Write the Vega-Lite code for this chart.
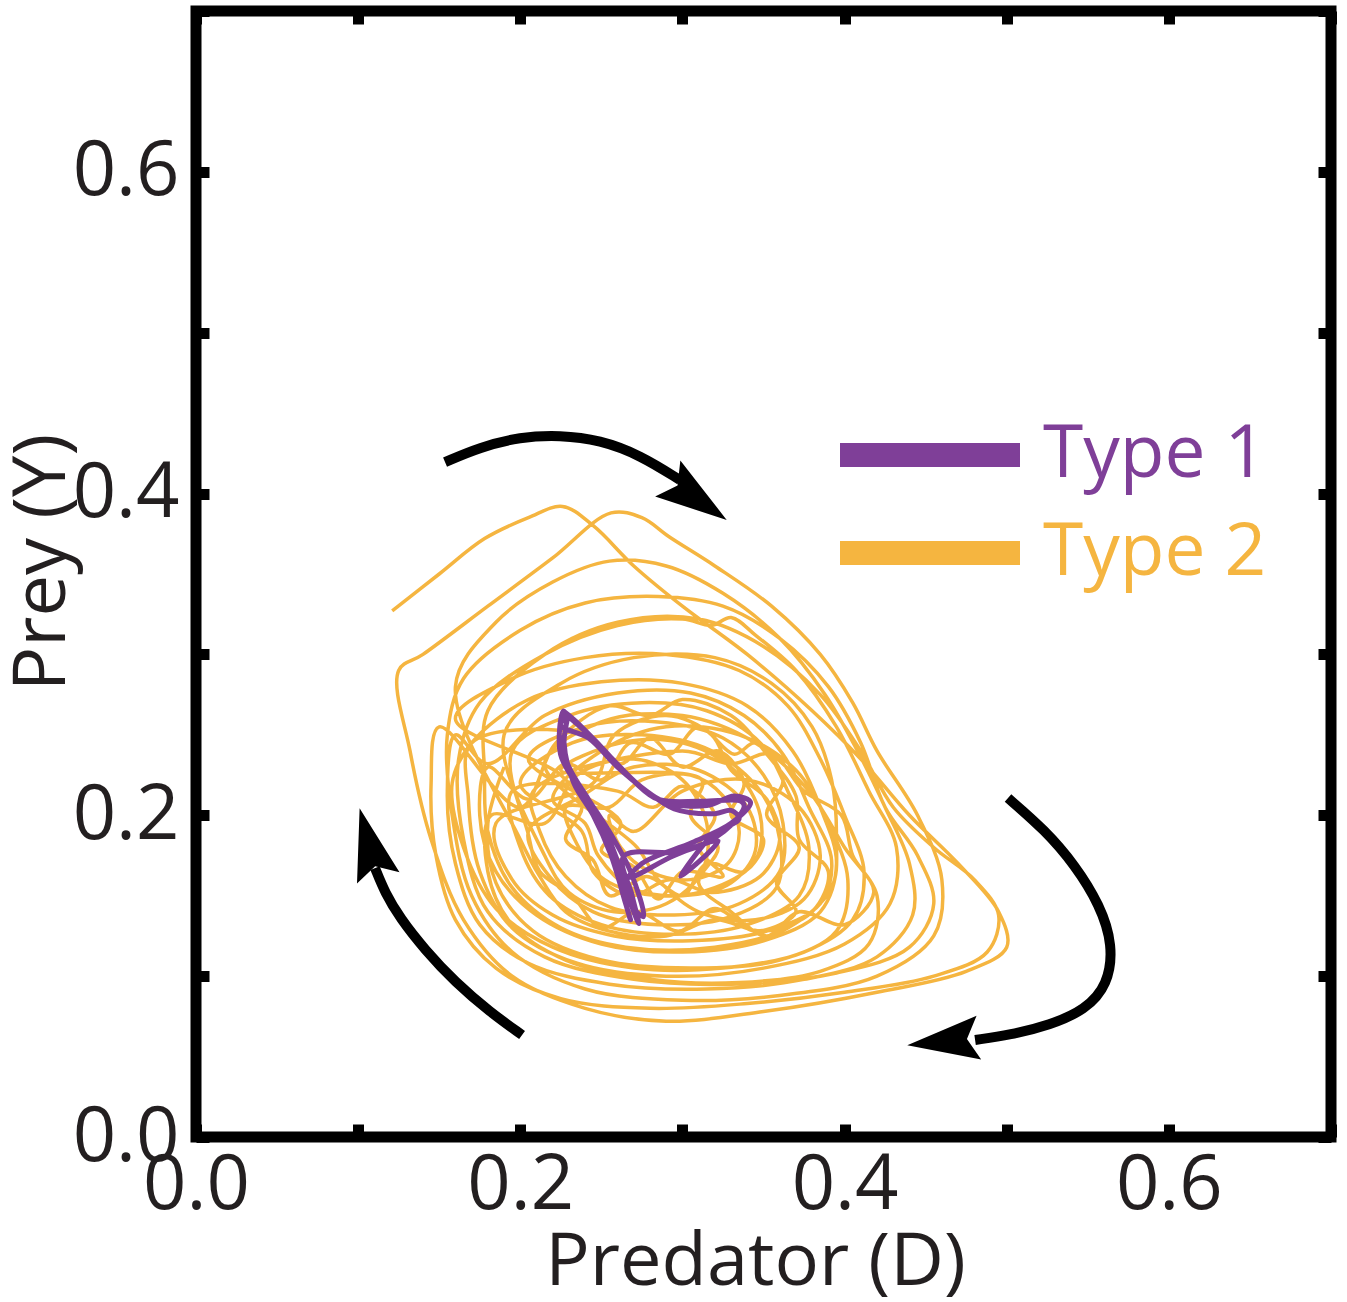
{
  "$schema": "https://vega.github.io/schema/vega-lite/v6.json",
  "width": 1135,
  "height": 1126,
  "autosize": "none",
  "padding": {"left": 196, "top": 11, "right": 16, "bottom": 165},
  "background": "white",
  "config": {
    "view": {"stroke": "black", "strokeWidth": 11},
    "font": "Open Sans",
    "axis": {
      "domain": false,
      "grid": false,
      "ticks": true,
      "tickColor": "black",
      "tickWidth": 11,
      "tickSize": -13,
      "tickCount": 7,
      "labelFont": "Open Sans",
      "labelFontSize": 76,
      "labelColor": "#231f20",
      "labelFlush": false,
      "labelOverlap": false,
      "labelExpr": "round(datum.value*10) % 2 == 0 ? format(datum.value, '.1f') : ''",
      "titleFont": "Open Sans",
      "titleFontSize": 74,
      "titleFontWeight": "normal",
      "titleColor": "#231f20"
    },
    "axisX": {"labelPadding": 24, "titlePadding": 3},
    "axisY": {"labelPadding": 30, "titlePadding": -8}
  },
  "resolve": {"axis": {"x": "independent", "y": "independent"}},
  "datasets": {
    "traj": [
      {"type":"Type 2","D":0.121,"Y":0.327},{"type":"Type 2","D":0.150,"Y":0.350},{"type":"Type 2","D":0.178,"Y":0.372},{"type":"Type 2","D":0.205,"Y":0.385},{"type":"Type 2","D":0.226,"Y":0.392},{"type":"Type 2","D":0.245,"Y":0.380},{"type":"Type 2","D":0.270,"Y":0.355},{"type":"Type 2","D":0.300,"Y":0.330},{"type":"Type 2","D":0.340,"Y":0.300},{"type":"Type 2","D":0.380,"Y":0.265},{"type":"Type 2","D":0.410,"Y":0.235},{"type":"Type 2","D":0.440,"Y":0.200},{"type":"Type 2","D":0.470,"Y":0.170},{"type":"Type 2","D":0.495,"Y":0.140},{"type":"Type 2","D":0.500,"Y":0.118},{"type":"Type 2","D":0.475,"Y":0.103},{"type":"Type 2","D":0.420,"Y":0.090},{"type":"Type 2","D":0.350,"Y":0.078},{"type":"Type 2","D":0.290,"Y":0.072},{"type":"Type 2","D":0.240,"Y":0.080},{"type":"Type 2","D":0.195,"Y":0.100},{"type":"Type 2","D":0.165,"Y":0.135},{"type":"Type 2","D":0.145,"Y":0.185},{"type":"Type 2","D":0.132,"Y":0.240},{"type":"Type 2","D":0.125,"Y":0.290},
      {"type":"Type 2","D":0.140,"Y":0.300},{"type":"Type 2","D":0.180,"Y":0.330},{"type":"Type 2","D":0.220,"Y":0.360},{"type":"Type 2","D":0.256,"Y":0.388},{"type":"Type 2","D":0.275,"Y":0.385},{"type":"Type 2","D":0.292,"Y":0.373},{"type":"Type 2","D":0.320,"Y":0.355},{"type":"Type 2","D":0.355,"Y":0.330},{"type":"Type 2","D":0.385,"Y":0.300},{"type":"Type 2","D":0.405,"Y":0.270},{"type":"Type 2","D":0.420,"Y":0.240},{"type":"Type 2","D":0.445,"Y":0.200},{"type":"Type 2","D":0.460,"Y":0.160},{"type":"Type 2","D":0.455,"Y":0.125},{"type":"Type 2","D":0.420,"Y":0.100},{"type":"Type 2","D":0.360,"Y":0.088},{"type":"Type 2","D":0.300,"Y":0.085},{"type":"Type 2","D":0.240,"Y":0.092},{"type":"Type 2","D":0.195,"Y":0.115},{"type":"Type 2","D":0.170,"Y":0.150},{"type":"Type 2","D":0.158,"Y":0.200},{"type":"Type 2","D":0.155,"Y":0.250},
      {"type":"Type 2","D":0.165,"Y":0.285},{"type":"Type 2","D":0.200,"Y":0.315},{"type":"Type 2","D":0.240,"Y":0.332},{"type":"Type 2","D":0.285,"Y":0.336},{"type":"Type 2","D":0.325,"Y":0.330},{"type":"Type 2","D":0.360,"Y":0.310},{"type":"Type 2","D":0.390,"Y":0.280},{"type":"Type 2","D":0.410,"Y":0.245},{"type":"Type 2","D":0.425,"Y":0.205},{"type":"Type 2","D":0.445,"Y":0.175},{"type":"Type 2","D":0.455,"Y":0.145},{"type":"Type 2","D":0.440,"Y":0.118},{"type":"Type 2","D":0.395,"Y":0.102},{"type":"Type 2","D":0.330,"Y":0.095},{"type":"Type 2","D":0.270,"Y":0.098},{"type":"Type 2","D":0.215,"Y":0.112},{"type":"Type 2","D":0.180,"Y":0.140},{"type":"Type 2","D":0.165,"Y":0.185},{"type":"Type 2","D":0.162,"Y":0.235},
      {"type":"Type 2","D":0.175,"Y":0.270},{"type":"Type 2","D":0.215,"Y":0.300},{"type":"Type 2","D":0.260,"Y":0.318},{"type":"Type 2","D":0.300,"Y":0.322},{"type":"Type 2","D":0.318,"Y":0.318},{"type":"Type 2","D":0.330,"Y":0.323},{"type":"Type 2","D":0.345,"Y":0.312},{"type":"Type 2","D":0.370,"Y":0.290},{"type":"Type 2","D":0.395,"Y":0.255},{"type":"Type 2","D":0.415,"Y":0.215},{"type":"Type 2","D":0.432,"Y":0.180},{"type":"Type 2","D":0.428,"Y":0.145},{"type":"Type 2","D":0.400,"Y":0.120},{"type":"Type 2","D":0.350,"Y":0.105},{"type":"Type 2","D":0.290,"Y":0.100},{"type":"Type 2","D":0.235,"Y":0.108},{"type":"Type 2","D":0.195,"Y":0.130},{"type":"Type 2","D":0.175,"Y":0.165},{"type":"Type 2","D":0.168,"Y":0.210},{"type":"Type 2","D":0.170,"Y":0.245},
      {"type":"Type 2","D":0.240,"Y":0.250},{"type":"Type 2","D":0.262,"Y":0.232},{"type":"Type 2","D":0.280,"Y":0.248},{"type":"Type 2","D":0.300,"Y":0.230},{"type":"Type 2","D":0.322,"Y":0.240},{"type":"Type 2","D":0.338,"Y":0.220},{"type":"Type 2","D":0.330,"Y":0.200},{"type":"Type 2","D":0.350,"Y":0.185},{"type":"Type 2","D":0.338,"Y":0.165},{"type":"Type 2","D":0.315,"Y":0.170},{"type":"Type 2","D":0.300,"Y":0.150},{"type":"Type 2","D":0.278,"Y":0.162},{"type":"Type 2","D":0.255,"Y":0.150},{"type":"Type 2","D":0.245,"Y":0.172},{"type":"Type 2","D":0.228,"Y":0.185},{"type":"Type 2","D":0.238,"Y":0.205},{"type":"Type 2","D":0.225,"Y":0.225},
      {"type":"Type 2","D":0.160,"Y":0.260},{"type":"Type 2","D":0.195,"Y":0.285},{"type":"Type 2","D":0.240,"Y":0.298},{"type":"Type 2","D":0.290,"Y":0.300},{"type":"Type 2","D":0.335,"Y":0.290},{"type":"Type 2","D":0.365,"Y":0.268},{"type":"Type 2","D":0.385,"Y":0.235},{"type":"Type 2","D":0.400,"Y":0.200},{"type":"Type 2","D":0.412,"Y":0.165},{"type":"Type 2","D":0.405,"Y":0.135},{"type":"Type 2","D":0.375,"Y":0.115},{"type":"Type 2","D":0.325,"Y":0.105},{"type":"Type 2","D":0.270,"Y":0.105},{"type":"Type 2","D":0.220,"Y":0.118},{"type":"Type 2","D":0.185,"Y":0.142},{"type":"Type 2","D":0.165,"Y":0.180},{"type":"Type 2","D":0.158,"Y":0.220},
      {"type":"Type 2","D":0.170,"Y":0.245},{"type":"Type 2","D":0.205,"Y":0.272},{"type":"Type 2","D":0.250,"Y":0.283},{"type":"Type 2","D":0.300,"Y":0.282},{"type":"Type 2","D":0.340,"Y":0.268},{"type":"Type 2","D":0.368,"Y":0.240},{"type":"Type 2","D":0.385,"Y":0.205},{"type":"Type 2","D":0.395,"Y":0.170},{"type":"Type 2","D":0.385,"Y":0.140},{"type":"Type 2","D":0.350,"Y":0.122},{"type":"Type 2","D":0.300,"Y":0.115},{"type":"Type 2","D":0.250,"Y":0.120},{"type":"Type 2","D":0.210,"Y":0.138},{"type":"Type 2","D":0.185,"Y":0.165},{"type":"Type 2","D":0.175,"Y":0.200},{"type":"Type 2","D":0.180,"Y":0.230},
      {"type":"Type 2","D":0.205,"Y":0.210},{"type":"Type 2","D":0.228,"Y":0.232},{"type":"Type 2","D":0.250,"Y":0.222},{"type":"Type 2","D":0.268,"Y":0.245},{"type":"Type 2","D":0.292,"Y":0.238},{"type":"Type 2","D":0.310,"Y":0.255},{"type":"Type 2","D":0.332,"Y":0.238},{"type":"Type 2","D":0.345,"Y":0.245},{"type":"Type 2","D":0.362,"Y":0.222},{"type":"Type 2","D":0.352,"Y":0.200},{"type":"Type 2","D":0.372,"Y":0.180},{"type":"Type 2","D":0.358,"Y":0.158},{"type":"Type 2","D":0.370,"Y":0.140},{"type":"Type 2","D":0.345,"Y":0.128},{"type":"Type 2","D":0.320,"Y":0.142},{"type":"Type 2","D":0.298,"Y":0.128},{"type":"Type 2","D":0.272,"Y":0.140},{"type":"Type 2","D":0.250,"Y":0.130},{"type":"Type 2","D":0.232,"Y":0.150},{"type":"Type 2","D":0.212,"Y":0.165},{"type":"Type 2","D":0.205,"Y":0.188},
      {"type":"Type 2","D":0.195,"Y":0.240},{"type":"Type 2","D":0.230,"Y":0.262},{"type":"Type 2","D":0.275,"Y":0.270},{"type":"Type 2","D":0.315,"Y":0.265},{"type":"Type 2","D":0.348,"Y":0.245},{"type":"Type 2","D":0.365,"Y":0.215},{"type":"Type 2","D":0.378,"Y":0.180},{"type":"Type 2","D":0.372,"Y":0.150},{"type":"Type 2","D":0.340,"Y":0.132},{"type":"Type 2","D":0.295,"Y":0.126},{"type":"Type 2","D":0.250,"Y":0.132},{"type":"Type 2","D":0.218,"Y":0.150},{"type":"Type 2","D":0.200,"Y":0.180},{"type":"Type 2","D":0.195,"Y":0.215},
      {"type":"Type 2","D":0.260,"Y":0.215},{"type":"Type 2","D":0.282,"Y":0.205},{"type":"Type 2","D":0.300,"Y":0.218},{"type":"Type 2","D":0.320,"Y":0.200},{"type":"Type 2","D":0.310,"Y":0.180},{"type":"Type 2","D":0.325,"Y":0.162},{"type":"Type 2","D":0.300,"Y":0.165},{"type":"Type 2","D":0.285,"Y":0.148},{"type":"Type 2","D":0.270,"Y":0.168},{"type":"Type 2","D":0.250,"Y":0.178},{"type":"Type 2","D":0.262,"Y":0.195},
      {"type":"Type 2","D":0.205,"Y":0.235},{"type":"Type 2","D":0.240,"Y":0.255},{"type":"Type 2","D":0.285,"Y":0.258},{"type":"Type 2","D":0.325,"Y":0.248},{"type":"Type 2","D":0.350,"Y":0.225},{"type":"Type 2","D":0.362,"Y":0.195},{"type":"Type 2","D":0.360,"Y":0.165},{"type":"Type 2","D":0.335,"Y":0.145},{"type":"Type 2","D":0.295,"Y":0.138},{"type":"Type 2","D":0.255,"Y":0.143},{"type":"Type 2","D":0.228,"Y":0.162},{"type":"Type 2","D":0.212,"Y":0.190},{"type":"Type 2","D":0.208,"Y":0.215},
      {"type":"Type 2","D":0.300,"Y":0.240},{"type":"Type 2","D":0.330,"Y":0.232},{"type":"Type 2","D":0.355,"Y":0.238},{"type":"Type 2","D":0.375,"Y":0.215},{"type":"Type 2","D":0.398,"Y":0.200},{"type":"Type 2","D":0.405,"Y":0.175},{"type":"Type 2","D":0.418,"Y":0.152},{"type":"Type 2","D":0.400,"Y":0.132},{"type":"Type 2","D":0.372,"Y":0.140},{"type":"Type 2","D":0.352,"Y":0.125},{"type":"Type 2","D":0.330,"Y":0.140},{"type":"Type 2","D":0.310,"Y":0.158},{"type":"Type 2","D":0.322,"Y":0.180},{"type":"Type 2","D":0.305,"Y":0.200},{"type":"Type 2","D":0.312,"Y":0.222},
      {"type":"Type 2","D":0.225,"Y":0.228},{"type":"Type 2","D":0.262,"Y":0.245},{"type":"Type 2","D":0.300,"Y":0.245},{"type":"Type 2","D":0.332,"Y":0.228},{"type":"Type 2","D":0.348,"Y":0.200},{"type":"Type 2","D":0.345,"Y":0.172},{"type":"Type 2","D":0.320,"Y":0.155},{"type":"Type 2","D":0.285,"Y":0.150},{"type":"Type 2","D":0.252,"Y":0.160},{"type":"Type 2","D":0.235,"Y":0.182},{"type":"Type 2","D":0.228,"Y":0.205},
      {"type":"Type 2","D":0.255,"Y":0.205},{"type":"Type 2","D":0.275,"Y":0.222},{"type":"Type 2","D":0.305,"Y":0.225},{"type":"Type 2","D":0.325,"Y":0.212},{"type":"Type 2","D":0.335,"Y":0.190},{"type":"Type 2","D":0.328,"Y":0.170},{"type":"Type 2","D":0.305,"Y":0.160},{"type":"Type 2","D":0.280,"Y":0.165},{"type":"Type 2","D":0.262,"Y":0.180},{"type":"Type 2","D":0.255,"Y":0.200},
      {"type":"Type 2","D":0.270,"Y":0.190},{"type":"Type 2","D":0.300,"Y":0.215},{"type":"Type 2","D":0.340,"Y":0.222},{"type":"Type 2","D":0.372,"Y":0.205},{"type":"Type 2","D":0.385,"Y":0.175},{"type":"Type 2","D":0.375,"Y":0.148},{"type":"Type 2","D":0.345,"Y":0.135},{"type":"Type 2","D":0.310,"Y":0.140},{"type":"Type 2","D":0.285,"Y":0.160},{"type":"Type 2","D":0.272,"Y":0.180},
      {"type":"Type 2","D":0.215,"Y":0.232},{"type":"Type 2","D":0.250,"Y":0.258},{"type":"Type 2","D":0.300,"Y":0.262},{"type":"Type 2","D":0.345,"Y":0.245},{"type":"Type 2","D":0.378,"Y":0.215},{"type":"Type 2","D":0.400,"Y":0.180},{"type":"Type 2","D":0.420,"Y":0.150},{"type":"Type 2","D":0.415,"Y":0.120},{"type":"Type 2","D":0.385,"Y":0.103},{"type":"Type 2","D":0.335,"Y":0.096},{"type":"Type 2","D":0.280,"Y":0.098},{"type":"Type 2","D":0.228,"Y":0.110},{"type":"Type 2","D":0.195,"Y":0.132},{"type":"Type 2","D":0.180,"Y":0.165},{"type":"Type 2","D":0.182,"Y":0.200},
      {"type":"Type 2","D":0.215,"Y":0.195},{"type":"Type 2","D":0.235,"Y":0.225},{"type":"Type 2","D":0.270,"Y":0.235},{"type":"Type 2","D":0.300,"Y":0.222},{"type":"Type 2","D":0.315,"Y":0.195},{"type":"Type 2","D":0.312,"Y":0.165},{"type":"Type 2","D":0.290,"Y":0.145},{"type":"Type 2","D":0.258,"Y":0.140},{"type":"Type 2","D":0.230,"Y":0.152},{"type":"Type 2","D":0.215,"Y":0.175},
      {"type":"Type 2","D":0.190,"Y":0.250},{"type":"Type 2","D":0.225,"Y":0.282},{"type":"Type 2","D":0.270,"Y":0.298},{"type":"Type 2","D":0.320,"Y":0.298},{"type":"Type 2","D":0.355,"Y":0.282},{"type":"Type 2","D":0.380,"Y":0.255},{"type":"Type 2","D":0.392,"Y":0.222},{"type":"Type 2","D":0.395,"Y":0.185},{"type":"Type 2","D":0.392,"Y":0.155},{"type":"Type 2","D":0.365,"Y":0.130},{"type":"Type 2","D":0.320,"Y":0.118},{"type":"Type 2","D":0.265,"Y":0.118},{"type":"Type 2","D":0.225,"Y":0.130},{"type":"Type 2","D":0.195,"Y":0.155},{"type":"Type 2","D":0.180,"Y":0.190},{"type":"Type 2","D":0.178,"Y":0.225},
      {"type":"Type 2","D":0.180,"Y":0.265},{"type":"Type 2","D":0.215,"Y":0.300},{"type":"Type 2","D":0.260,"Y":0.320},{"type":"Type 2","D":0.310,"Y":0.322},{"type":"Type 2","D":0.350,"Y":0.305},{"type":"Type 2","D":0.385,"Y":0.275},{"type":"Type 2","D":0.410,"Y":0.240},{"type":"Type 2","D":0.430,"Y":0.205},{"type":"Type 2","D":0.455,"Y":0.180},{"type":"Type 2","D":0.480,"Y":0.160},{"type":"Type 2","D":0.495,"Y":0.138},{"type":"Type 2","D":0.488,"Y":0.115},{"type":"Type 2","D":0.455,"Y":0.100},{"type":"Type 2","D":0.400,"Y":0.090},{"type":"Type 2","D":0.340,"Y":0.083},{"type":"Type 2","D":0.280,"Y":0.080},{"type":"Type 2","D":0.225,"Y":0.086},{"type":"Type 2","D":0.185,"Y":0.105},{"type":"Type 2","D":0.160,"Y":0.135},{"type":"Type 2","D":0.148,"Y":0.175},{"type":"Type 2","D":0.145,"Y":0.220},{"type":"Type 2","D":0.150,"Y":0.255},
      {"type":"Type 2","D":0.200,"Y":0.205},{"type":"Type 2","D":0.222,"Y":0.245},{"type":"Type 2","D":0.255,"Y":0.268},{"type":"Type 2","D":0.280,"Y":0.262},{"type":"Type 2","D":0.300,"Y":0.272},{"type":"Type 2","D":0.330,"Y":0.262},{"type":"Type 2","D":0.352,"Y":0.238},{"type":"Type 2","D":0.370,"Y":0.212},{"type":"Type 2","D":0.372,"Y":0.185},{"type":"Type 2","D":0.390,"Y":0.165},{"type":"Type 2","D":0.380,"Y":0.140},{"type":"Type 2","D":0.350,"Y":0.128},{"type":"Type 2","D":0.320,"Y":0.135},{"type":"Type 2","D":0.290,"Y":0.125},{"type":"Type 2","D":0.255,"Y":0.128},{"type":"Type 2","D":0.228,"Y":0.140},{"type":"Type 2","D":0.212,"Y":0.162},{"type":"Type 2","D":0.200,"Y":0.185},
      {"type":"Type 2","D":0.160,"Y":0.280},{"type":"Type 2","D":0.185,"Y":0.320},{"type":"Type 2","D":0.220,"Y":0.345},{"type":"Type 2","D":0.255,"Y":0.358},{"type":"Type 2","D":0.290,"Y":0.355},{"type":"Type 2","D":0.325,"Y":0.338},{"type":"Type 2","D":0.360,"Y":0.310},{"type":"Type 2","D":0.388,"Y":0.275},{"type":"Type 2","D":0.408,"Y":0.240},{"type":"Type 2","D":0.425,"Y":0.205},{"type":"Type 2","D":0.440,"Y":0.170},{"type":"Type 2","D":0.442,"Y":0.138},{"type":"Type 2","D":0.420,"Y":0.112},{"type":"Type 2","D":0.375,"Y":0.098},{"type":"Type 2","D":0.315,"Y":0.092},{"type":"Type 2","D":0.255,"Y":0.095},{"type":"Type 2","D":0.205,"Y":0.108},{"type":"Type 2","D":0.175,"Y":0.132},{"type":"Type 2","D":0.160,"Y":0.170},{"type":"Type 2","D":0.155,"Y":0.215},{"type":"Type 2","D":0.160,"Y":0.250},
      {"type":"Type 2","D":0.180,"Y":0.232},{"type":"Type 2","D":0.215,"Y":0.262},{"type":"Type 2","D":0.260,"Y":0.276},{"type":"Type 2","D":0.305,"Y":0.276},{"type":"Type 2","D":0.338,"Y":0.262},{"type":"Type 2","D":0.362,"Y":0.238},{"type":"Type 2","D":0.378,"Y":0.205},{"type":"Type 2","D":0.392,"Y":0.172},{"type":"Type 2","D":0.385,"Y":0.145},{"type":"Type 2","D":0.352,"Y":0.128},{"type":"Type 2","D":0.305,"Y":0.122},{"type":"Type 2","D":0.258,"Y":0.125},{"type":"Type 2","D":0.220,"Y":0.138},{"type":"Type 2","D":0.195,"Y":0.160},{"type":"Type 2","D":0.185,"Y":0.195},
      {"type":"Type 2","D":0.245,"Y":0.220},{"type":"Type 2","D":0.258,"Y":0.250},{"type":"Type 2","D":0.290,"Y":0.262},{"type":"Type 2","D":0.318,"Y":0.250},{"type":"Type 2","D":0.330,"Y":0.228},{"type":"Type 2","D":0.352,"Y":0.210},{"type":"Type 2","D":0.360,"Y":0.185},{"type":"Type 2","D":0.348,"Y":0.162},{"type":"Type 2","D":0.318,"Y":0.152},{"type":"Type 2","D":0.292,"Y":0.160},{"type":"Type 2","D":0.268,"Y":0.150},{"type":"Type 2","D":0.245,"Y":0.165},{"type":"Type 2","D":0.238,"Y":0.190},
      {"type":"Type 2","D":0.200,"Y":0.220},{"type":"Type 2","D":0.232,"Y":0.245},{"type":"Type 2","D":0.275,"Y":0.250},{"type":"Type 2","D":0.318,"Y":0.240},{"type":"Type 2","D":0.348,"Y":0.215},{"type":"Type 2","D":0.360,"Y":0.185},{"type":"Type 2","D":0.358,"Y":0.155},{"type":"Type 2","D":0.330,"Y":0.137},{"type":"Type 2","D":0.285,"Y":0.132},{"type":"Type 2","D":0.245,"Y":0.140},{"type":"Type 2","D":0.218,"Y":0.162},{"type":"Type 2","D":0.205,"Y":0.190},
      {"type":"Type 2","D":0.238,"Y":0.212},{"type":"Type 2","D":0.270,"Y":0.230},{"type":"Type 2","D":0.310,"Y":0.228},{"type":"Type 2","D":0.340,"Y":0.205},{"type":"Type 2","D":0.345,"Y":0.178},{"type":"Type 2","D":0.330,"Y":0.158},{"type":"Type 2","D":0.300,"Y":0.150},{"type":"Type 2","D":0.268,"Y":0.155},{"type":"Type 2","D":0.248,"Y":0.175},{"type":"Type 2","D":0.240,"Y":0.195},
      {"type":"Type 2","D":0.220,"Y":0.210},{"type":"Type 2","D":0.250,"Y":0.240},{"type":"Type 2","D":0.290,"Y":0.255},{"type":"Type 2","D":0.335,"Y":0.250},{"type":"Type 2","D":0.370,"Y":0.228},{"type":"Type 2","D":0.390,"Y":0.195},{"type":"Type 2","D":0.402,"Y":0.160},{"type":"Type 2","D":0.395,"Y":0.128},{"type":"Type 2","D":0.360,"Y":0.110},{"type":"Type 2","D":0.305,"Y":0.105},{"type":"Type 2","D":0.250,"Y":0.110},{"type":"Type 2","D":0.208,"Y":0.128},{"type":"Type 2","D":0.185,"Y":0.158},{"type":"Type 2","D":0.180,"Y":0.195},{"type":"Type 2","D":0.190,"Y":0.230},
      {"type":"Type 1","D":0.2266,"Y":0.2648},{"type":"Type 1","D":0.2341,"Y":0.2586},{"type":"Type 1","D":0.2495,"Y":0.2430},{"type":"Type 1","D":0.2700,"Y":0.2212},{"type":"Type 1","D":0.2848,"Y":0.2100},{"type":"Type 1","D":0.3115,"Y":0.2087},{"type":"Type 1","D":0.3362,"Y":0.2087},{"type":"Type 1","D":0.3381,"Y":0.2056},{"type":"Type 1","D":0.3257,"Y":0.1900},{"type":"Type 1","D":0.3009,"Y":0.1776},{"type":"Type 1","D":0.2638,"Y":0.1745},{"type":"Type 1","D":0.2690,"Y":0.1500},{"type":"Type 1","D":0.2731,"Y":0.1327},{"type":"Type 1","D":0.2700,"Y":0.1400},{"type":"Type 1","D":0.2601,"Y":0.1713},{"type":"Type 1","D":0.2495,"Y":0.1963},{"type":"Type 1","D":0.2390,"Y":0.2131},{"type":"Type 1","D":0.2248,"Y":0.2380},{"type":"Type 1","D":0.2266,"Y":0.2648},
      {"type":"Type 1","D":0.2290,"Y":0.2620},{"type":"Type 1","D":0.2380,"Y":0.2540},{"type":"Type 1","D":0.2540,"Y":0.2380},{"type":"Type 1","D":0.2740,"Y":0.2180},{"type":"Type 1","D":0.2900,"Y":0.2080},{"type":"Type 1","D":0.3150,"Y":0.2060},{"type":"Type 1","D":0.3320,"Y":0.2120},{"type":"Type 1","D":0.3420,"Y":0.2080},{"type":"Type 1","D":0.3300,"Y":0.1950},{"type":"Type 1","D":0.3060,"Y":0.1830},{"type":"Type 1","D":0.2750,"Y":0.1700},{"type":"Type 1","D":0.2640,"Y":0.1560},{"type":"Type 1","D":0.2680,"Y":0.1350},{"type":"Type 1","D":0.2650,"Y":0.1450},{"type":"Type 1","D":0.2560,"Y":0.1750},{"type":"Type 1","D":0.2450,"Y":0.2000},{"type":"Type 1","D":0.2330,"Y":0.2200},{"type":"Type 1","D":0.2270,"Y":0.2450},{"type":"Type 1","D":0.2290,"Y":0.2620},
      {"type":"Type 1","D":0.2250,"Y":0.2560},{"type":"Type 1","D":0.2420,"Y":0.2480},{"type":"Type 1","D":0.2600,"Y":0.2300},{"type":"Type 1","D":0.2780,"Y":0.2150},{"type":"Type 1","D":0.2950,"Y":0.2040},{"type":"Type 1","D":0.3200,"Y":0.2010},{"type":"Type 1","D":0.3300,"Y":0.2030},{"type":"Type 1","D":0.3350,"Y":0.1980},{"type":"Type 1","D":0.3180,"Y":0.1870},{"type":"Type 1","D":0.2990,"Y":0.1620},{"type":"Type 1","D":0.3220,"Y":0.1840},{"type":"Type 1","D":0.2950,"Y":0.1750},{"type":"Type 1","D":0.2700,"Y":0.1620},{"type":"Type 1","D":0.2620,"Y":0.1600},{"type":"Type 1","D":0.2700,"Y":0.1420},{"type":"Type 1","D":0.2760,"Y":0.1370},{"type":"Type 1","D":0.2680,"Y":0.1650},{"type":"Type 1","D":0.2560,"Y":0.1880},{"type":"Type 1","D":0.2420,"Y":0.2100},{"type":"Type 1","D":0.2300,"Y":0.2300},{"type":"Type 1","D":0.2240,"Y":0.2500}
    ],
    "arrows": [
      {"arrow":"top","D":0.1536,"Y":0.4196},{"arrow":"top","D":0.1752,"Y":0.4289},{"arrow":"top","D":0.1998,"Y":0.4352},{"arrow":"top","D":0.2245,"Y":0.4364},{"arrow":"top","D":0.2492,"Y":0.4333},{"arrow":"top","D":0.2739,"Y":0.4240},{"arrow":"top","D":0.2985,"Y":0.4084},
      {"arrow":"right","D":0.5008,"Y":0.2107},{"arrow":"right","D":0.5236,"Y":0.1908},{"arrow":"right","D":0.5421,"Y":0.1691},{"arrow":"right","D":0.5575,"Y":0.1442},{"arrow":"right","D":0.5656,"Y":0.1194},{"arrow":"right","D":0.5625,"Y":0.0945},{"arrow":"right","D":0.5483,"Y":0.0789},{"arrow":"right","D":0.5267,"Y":0.0696},{"arrow":"right","D":0.5020,"Y":0.0634},{"arrow":"right","D":0.4805,"Y":0.0603},
      {"arrow":"left","D":0.2011,"Y":0.0634},{"arrow":"left","D":0.1813,"Y":0.0777},{"arrow":"left","D":0.1597,"Y":0.0964},{"arrow":"left","D":0.1412,"Y":0.1163},{"arrow":"left","D":0.1258,"Y":0.1361},{"arrow":"left","D":0.1166,"Y":0.1517},{"arrow":"left","D":0.1104,"Y":0.1672}
    ],
    "heads": [
      {"arrow":"top","D":0.3071,"Y":0.3979},
      {"arrow":"right","D":0.4632,"Y":0.0597},
      {"arrow":"left","D":0.1073,"Y":0.1803}
    ]
  },
  "layer": [
    {
      "data": {"name": "traj"},
      "transform": [{"filter": {"field": "type", "equal": "Type 2"}}],
      "mark": {"type": "line", "strokeWidth": 3.5, "strokeJoin": "round", "interpolate": "catmull-rom"},
      "encoding": {
        "x": {"field": "D", "type": "quantitative", "title": "Predator (D)", "scale": {"domain": [0, 0.7], "nice": false, "zero": false}, "axis": {"orient": "bottom", "titleX": 559}},
        "y": {"field": "Y", "type": "quantitative", "title": "Prey (Y)", "scale": {"domain": [0, 0.7], "nice": false, "zero": false}, "axis": {"orient": "left", "titleY": 551}},
        "color": {
          "field": "type", "type": "nominal",
          "scale": {"domain": ["Type 1", "Type 2"], "range": ["#7f3f98", "#f5b540"]},
          "legend": {
            "orient": "none", "legendX": 697.5, "legendY": 407.5, "title": null,
            "symbolType": "M-4,0L4,0", "symbolSize": 2025, "symbolStrokeWidth": 24,
            "labelFont": "Open Sans", "labelFontSize": 73, "labelOffset": 76.5, "labelLimit": 0,
            "rowPadding": 1, "padding": 0, "offset": 0,
            "encode": {
              "labels": {"update": {"fill": {"scale": "color", "field": "value"}}},
              "symbols": {"update": {"strokeWidth": {"value": 24}, "opacity": {"value": 1}}}
            }
          }
        },
        "order": {"value": null}
      }
    },
    {
      "data": {"name": "traj"},
      "transform": [{"filter": {"field": "type", "equal": "Type 1"}}],
      "mark": {"type": "line", "strokeWidth": 5, "strokeJoin": "round", "interpolate": "catmull-rom"},
      "encoding": {
        "x": {"field": "D", "type": "quantitative", "axis": null},
        "y": {"field": "Y", "type": "quantitative", "axis": null},
        "color": {"field": "type", "type": "nominal"},
        "order": {"value": null}
      }
    },
    {
      "data": {"name": "arrows"},
      "mark": {"type": "line", "strokeWidth": 10, "color": "black", "strokeCap": "butt", "interpolate": "basis"},
      "encoding": {
        "x": {"field": "D", "type": "quantitative", "axis": null},
        "y": {"field": "Y", "type": "quantitative", "axis": null},
        "detail": {"field": "arrow"},
        "order": {"value": null}
      }
    },
    {
      "data": {"name": "heads"},
      "transform": [{"filter": {"field": "arrow", "equal": "top"}}],
      "mark": {"type": "point", "shape": "M0,-1L0.55,0.8L0,0.5L-0.55,0.8Z", "filled": true, "color": "black", "opacity": 1, "size": 6400, "angle": 125, "strokeWidth": 0},
      "encoding": {
        "x": {"field": "D", "type": "quantitative", "axis": {"orient": "top", "labels": false, "title": null}},
        "y": {"field": "Y", "type": "quantitative", "axis": {"orient": "right", "labels": false, "title": null}}
      }
    },
    {
      "data": {"name": "heads"},
      "transform": [{"filter": {"field": "arrow", "equal": "right"}}],
      "mark": {"type": "point", "shape": "M0,-1L0.55,0.8L0,0.5L-0.55,0.8Z", "filled": true, "color": "black", "opacity": 1, "size": 6400, "angle": 264, "strokeWidth": 0},
      "encoding": {
        "x": {"field": "D", "type": "quantitative", "axis": null},
        "y": {"field": "Y", "type": "quantitative", "axis": null}
      }
    },
    {
      "data": {"name": "heads"},
      "transform": [{"filter": {"field": "arrow", "equal": "left"}}],
      "mark": {"type": "point", "shape": "M0,-1L0.55,0.8L0,0.5L-0.55,0.8Z", "filled": true, "color": "black", "opacity": 1, "size": 6400, "angle": 345, "strokeWidth": 0},
      "encoding": {
        "x": {"field": "D", "type": "quantitative", "axis": null},
        "y": {"field": "Y", "type": "quantitative", "axis": null}
      }
    }
  ]
}
